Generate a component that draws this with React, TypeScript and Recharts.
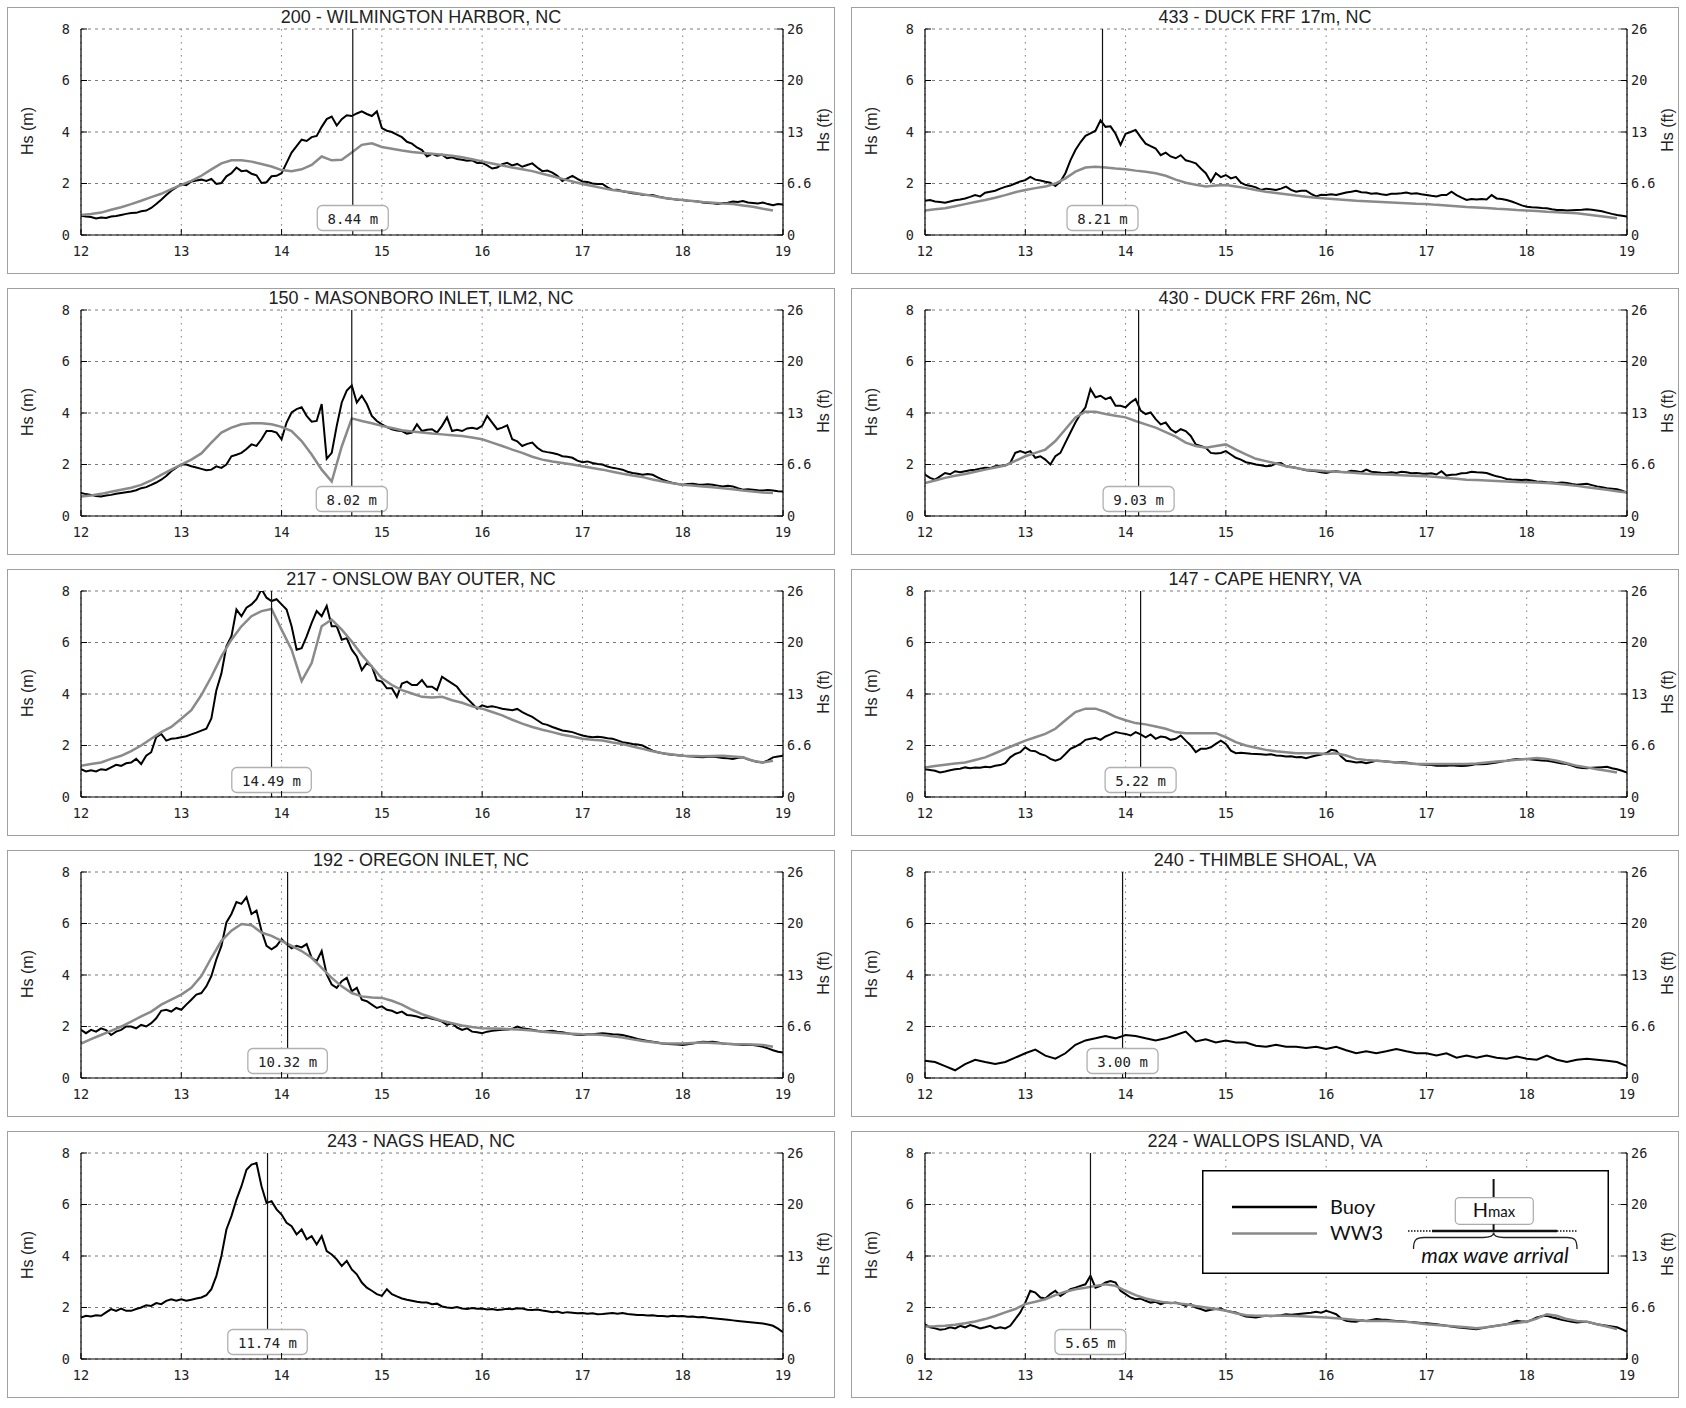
import { LineChart, Line, XAxis, YAxis, CartesianGrid, ReferenceLine, Legend } from 'recharts';

const MONO = '"DejaVu Sans Mono", monospace';
const SANS = '"Liberation Sans", Arial, sans-serif';
const LEGEND_FONT = 'Lato, "Open Sans", sans-serif';

const xTicks = [12, 13, 14, 15, 16, 17, 18, 19];
const mTicks = [0, 2, 4, 6, 8];
const ftLabels = ['0', '6.6', '13', '20', '26'];

// panel order: row by row, left then right
const stationTitles = [
  '200 - WILMINGTON HARBOR, NC',
  '433 - DUCK FRF 17m, NC',
  '150 - MASONBORO INLET, ILM2, NC',
  '430 - DUCK FRF 26m, NC',
  '217 - ONSLOW BAY OUTER, NC',
  '147 - CAPE HENRY, VA',
  '192 - OREGON INLET, NC',
  '240 - THIMBLE SHOAL, VA',
  '243 - NAGS HEAD, NC',
  '224 - WALLOPS ISLAND, VA',
];
const arrivalDays = [14.71, 13.77, 14.7, 14.13, 13.9, 14.15, 14.06, 13.97, 13.86, 13.65];
const hmaxLabels = ['8.44 m', '8.21 m', '8.02 m', '9.03 m', '14.49 m', '5.22 m', '10.32 m', '3.00 m', '11.74 m', '5.65 m'];

// Buoy Hs (m), day 12 -> 19, evenly spaced readings
const buoy200 = [
  0.75, 0.72, 0.7, 0.64, 0.68, 0.66, 0.72, 0.74, 0.78, 0.82,
  0.85, 0.86, 0.92, 0.95, 1.05, 1.2, 1.37, 1.55, 1.72, 1.85,
  1.97, 1.93, 2.08, 2.12, 2.15, 2.1, 2.18, 1.98, 2.02, 2.28,
  2.4, 2.62, 2.48, 2.5, 2.38, 2.32, 2.02, 2.05, 2.28, 2.3,
  2.4, 2.8, 3.2, 3.45, 3.7, 3.65, 3.8, 3.85, 4.2, 4.5,
  4.6, 4.25, 4.5, 4.65, 4.62, 4.72, 4.8, 4.7, 4.62, 4.8,
  4.15, 4.05, 4.0, 3.9, 3.8, 3.62, 3.55, 3.4, 3.3, 3.05,
  3.15, 3.08, 3.12, 2.98, 3.02, 2.95, 2.92, 2.88, 2.9, 2.8,
  2.8, 2.7, 2.58, 2.62, 2.75, 2.8, 2.7, 2.76, 2.65, 2.72,
  2.78, 2.62, 2.48, 2.5, 2.42, 2.3, 2.1, 2.2, 2.3, 2.18,
  2.08, 2.06, 2.0, 1.98, 1.98, 1.85, 1.75, 1.76, 1.7, 1.66,
  1.62, 1.6, 1.56, 1.55, 1.55, 1.5, 1.46, 1.42, 1.4, 1.37,
  1.36, 1.33, 1.32, 1.3, 1.26, 1.24, 1.23, 1.2, 1.24, 1.25,
  1.3, 1.28, 1.32, 1.26, 1.24, 1.22, 1.26, 1.2, 1.16, 1.2,
  1.18,
];
const buoy433 = [
  1.33, 1.36, 1.3, 1.28, 1.25, 1.3, 1.35, 1.38, 1.42, 1.48,
  1.55, 1.5, 1.64, 1.68, 1.72, 1.8, 1.87, 1.92, 2.0, 2.08,
  2.13, 2.26, 2.15, 2.12, 2.07, 2.03, 1.9, 2.07, 2.4, 2.9,
  3.3, 3.6, 3.85, 3.95, 4.05, 4.45, 4.2, 4.22, 3.93, 3.5,
  3.93, 4.0, 4.08, 3.8, 3.55, 3.45, 3.36, 3.1, 3.2, 3.05,
  2.98, 3.1, 2.9, 2.85, 2.78, 2.58, 2.4, 2.07, 2.4, 2.25,
  2.33, 2.2, 2.26, 2.03, 1.94, 1.9, 1.85, 1.75, 1.8, 1.78,
  1.75, 1.8, 1.88, 1.75, 1.68, 1.72, 1.72, 1.6, 1.5, 1.56,
  1.55, 1.58, 1.55, 1.6, 1.65, 1.68, 1.72, 1.66, 1.65, 1.6,
  1.62, 1.58, 1.55, 1.6, 1.6, 1.62, 1.65, 1.6, 1.62, 1.58,
  1.55, 1.52, 1.5, 1.55, 1.55, 1.68, 1.55, 1.45, 1.36, 1.4,
  1.38, 1.4, 1.38, 1.55, 1.42, 1.4, 1.36, 1.3, 1.23, 1.15,
  1.1, 1.08, 1.07, 1.05, 1.04, 1.0, 0.97, 0.97, 0.95, 0.96,
  0.97, 0.98, 1.0, 0.98, 0.95, 0.92, 0.87, 0.82, 0.78, 0.75,
  0.72,
];
const buoy150 = [
  0.89, 0.85, 0.82, 0.78, 0.76, 0.8, 0.82, 0.86, 0.89, 0.92,
  0.95, 1.0, 1.08, 1.12, 1.21, 1.3, 1.41, 1.55, 1.74, 1.88,
  2.0, 2.0, 1.93, 1.88, 1.83, 1.78, 1.8, 1.93, 1.87, 2.0,
  2.32, 2.38, 2.45, 2.6, 2.78, 2.72, 2.98, 3.3, 3.3, 3.24,
  2.98, 3.63, 4.02, 4.15, 4.22, 3.89, 3.66, 3.69, 4.35, 2.22,
  2.45, 3.5, 4.41, 4.87, 5.07, 4.41, 4.67, 4.35, 3.89, 3.69,
  3.56, 3.45, 3.37, 3.32, 3.3, 3.2, 3.24, 3.56, 3.3, 3.35,
  3.37, 3.24, 3.5, 3.83, 3.3, 3.35, 3.3, 3.4, 3.43, 3.38,
  3.5, 3.89, 3.63, 3.37, 3.43, 3.52, 2.98, 2.9, 2.72, 2.8,
  2.85, 2.65, 2.52, 2.48, 2.45, 2.4, 2.32, 2.3, 2.26, 2.15,
  2.09, 2.12, 2.06, 2.02, 2.0, 1.92, 1.87, 1.84, 1.8, 1.72,
  1.67, 1.64, 1.6, 1.63, 1.6, 1.5, 1.41, 1.34, 1.28, 1.24,
  1.21, 1.24, 1.25, 1.22, 1.21, 1.23, 1.21, 1.18, 1.15, 1.17,
  1.15, 1.08, 1.02, 1.04, 1.02, 1.0, 0.99, 1.01, 0.99, 0.96,
  0.95,
];
const buoy430 = [
  1.61, 1.48, 1.41, 1.54, 1.67, 1.62, 1.74, 1.7, 1.74, 1.78,
  1.8, 1.84, 1.87, 1.86, 1.93, 1.95, 1.96, 2.06, 2.45, 2.52,
  2.45, 2.52, 2.26, 2.32, 2.19, 2.0, 2.32, 2.45, 2.85, 3.24,
  3.63, 3.96, 4.22, 4.93, 4.61, 4.67, 4.54, 4.61, 4.28, 4.28,
  4.22, 4.41, 4.54, 4.09, 3.96, 4.02, 3.76, 3.56, 3.63, 3.37,
  3.24, 3.37, 3.3, 3.11, 2.78, 2.72, 2.65, 2.45, 2.43, 2.45,
  2.52, 2.39, 2.26, 2.19, 2.09, 2.05, 2.0, 1.97, 1.93, 1.95,
  2.04, 2.06, 1.93, 1.9, 1.87, 1.82, 1.78, 1.76, 1.74, 1.7,
  1.67, 1.72, 1.74, 1.71, 1.7, 1.76, 1.74, 1.7, 1.8, 1.72,
  1.7, 1.68, 1.67, 1.7, 1.67, 1.72, 1.7, 1.66, 1.67, 1.65,
  1.64, 1.66, 1.61, 1.74, 1.57, 1.6, 1.61, 1.66, 1.67, 1.72,
  1.7, 1.69, 1.67, 1.6, 1.54, 1.5, 1.44, 1.42, 1.41, 1.4,
  1.41, 1.38, 1.34, 1.33, 1.31, 1.3, 1.28, 1.3, 1.28, 1.24,
  1.21, 1.23, 1.25, 1.2, 1.15, 1.12, 1.08, 1.06, 1.04, 0.98,
  0.91,
];
const buoy217 = [
  1.08, 0.99, 1.04, 0.99, 1.08, 1.05, 1.15, 1.25, 1.21, 1.31,
  1.34, 1.48, 1.28, 1.6, 1.74, 2.32, 2.45, 2.19, 2.26, 2.28,
  2.32, 2.36, 2.43, 2.5, 2.58, 2.65, 3.05, 4.15, 4.8, 5.85,
  6.24, 7.28, 7.02, 7.35, 7.48, 7.68, 8.07, 7.74, 7.61, 7.68,
  7.48, 7.28, 6.63, 5.72, 5.78, 6.24, 6.76, 7.22, 7.02, 7.42,
  6.63, 6.63, 6.11, 6.17, 5.72, 5.46, 4.93, 5.2, 5.07, 4.54,
  4.48, 4.22, 4.22, 3.89, 4.41, 4.48, 4.35, 4.35, 4.54, 4.28,
  4.28, 4.15, 4.67, 4.54, 4.41, 4.28, 4.02, 3.83, 3.63, 3.43,
  3.56, 3.5, 3.52, 3.48, 3.43, 3.4, 3.37, 3.42, 3.3, 3.2,
  3.11, 2.98, 2.85, 2.8, 2.72, 2.65, 2.58, 2.55, 2.52, 2.45,
  2.39, 2.35, 2.32, 2.34, 2.32, 2.28, 2.26, 2.2, 2.13, 2.1,
  2.06, 2.04, 2.0, 1.9, 1.8, 1.74, 1.7, 1.66, 1.64, 1.62,
  1.6, 1.58, 1.57, 1.55, 1.54, 1.56, 1.57, 1.54, 1.51, 1.5,
  1.48, 1.52, 1.54, 1.46, 1.41, 1.36, 1.34, 1.42, 1.54, 1.57,
  1.6,
];
const buoy147 = [
  1.08, 1.05, 1.02, 0.95, 0.99, 1.04, 1.08, 1.1, 1.15, 1.12,
  1.15, 1.14, 1.17, 1.16, 1.21, 1.24, 1.31, 1.54, 1.67, 1.74,
  1.93, 1.8, 1.78, 1.67, 1.61, 1.48, 1.41, 1.48, 1.67, 1.87,
  1.96, 2.06, 2.22, 2.26, 2.3, 2.22, 2.35, 2.43, 2.52, 2.48,
  2.45, 2.39, 2.52, 2.43, 2.32, 2.43, 2.26, 2.35, 2.32, 2.22,
  2.26, 2.39, 2.19, 2.0, 1.74, 1.87, 1.87, 1.93, 2.06, 2.19,
  2.06, 1.8, 1.7, 1.72, 1.7, 1.68, 1.67, 1.66, 1.64, 1.66,
  1.61, 1.6, 1.57, 1.58, 1.54, 1.55, 1.51, 1.56, 1.61, 1.65,
  1.7, 1.83, 1.8, 1.57, 1.41, 1.38, 1.34, 1.36, 1.31, 1.36,
  1.41, 1.4, 1.38, 1.36, 1.34, 1.35, 1.34, 1.3, 1.28, 1.26,
  1.25, 1.24, 1.21, 1.22, 1.21, 1.23, 1.21, 1.2, 1.21, 1.24,
  1.28, 1.27, 1.28, 1.31, 1.34, 1.38, 1.41, 1.45, 1.48, 1.47,
  1.48, 1.46, 1.44, 1.42, 1.41, 1.38, 1.34, 1.3, 1.28, 1.22,
  1.15, 1.13, 1.12, 1.14, 1.15, 1.16, 1.17, 1.12, 1.08, 1.02,
  0.95,
];
const buoy192 = [
  1.87, 1.74, 1.87, 1.8, 1.93, 1.86, 1.67, 1.8, 1.87, 2.0,
  2.0, 1.93, 2.06, 2.0, 2.13, 2.32, 2.61, 2.65, 2.58, 2.72,
  2.65, 2.85, 3.04, 3.24, 3.3, 3.56, 3.96, 4.61, 5.13, 6.04,
  6.37, 6.83, 6.76, 7.02, 6.37, 6.5, 5.72, 5.13, 5.0, 5.13,
  5.39, 5.2, 5.04, 5.13, 5.07, 5.2, 4.67, 4.54, 4.93, 4.02,
  3.63, 3.5, 3.76, 3.89, 3.37, 3.5, 3.04, 2.98, 2.85, 2.72,
  2.78, 2.65, 2.61, 2.52, 2.58, 2.45, 2.43, 2.39, 2.32, 2.36,
  2.3, 2.26, 2.19, 2.06, 2.13, 1.96, 1.87, 1.93, 1.8, 1.78,
  1.74, 1.8, 1.83, 1.85, 1.87, 1.88, 1.91, 2.0, 1.93, 1.9,
  1.87, 1.84, 1.8, 1.82, 1.83, 1.8, 1.78, 1.74, 1.7, 1.68,
  1.67, 1.7, 1.7, 1.72, 1.74, 1.72, 1.7, 1.69, 1.67, 1.62,
  1.57, 1.52, 1.48, 1.44, 1.41, 1.38, 1.34, 1.32, 1.31, 1.3,
  1.28, 1.31, 1.34, 1.38, 1.41, 1.4, 1.41, 1.38, 1.34, 1.32,
  1.31, 1.3, 1.28, 1.29, 1.28, 1.25, 1.21, 1.15, 1.08, 1.02,
  0.99,
];
const buoy240 = [
  0.67, 0.62, 0.46, 0.3, 0.54, 0.71, 0.62, 0.54, 0.62, 0.79,
  0.96, 1.1, 0.87, 0.75, 0.96, 1.29, 1.46, 1.54, 1.63, 1.54,
  1.67, 1.63, 1.54, 1.46, 1.54, 1.67, 1.8, 1.42, 1.5, 1.38,
  1.46, 1.38, 1.38, 1.25, 1.21, 1.29, 1.21, 1.21, 1.17, 1.21,
  1.13, 1.21, 1.08, 0.96, 1.04, 0.96, 1.04, 1.13, 1.04, 0.96,
  0.96, 0.87, 0.96, 0.79, 0.87, 0.79, 0.87, 0.79, 0.75, 0.83,
  0.75, 0.71, 0.87, 0.71, 0.62, 0.71, 0.75, 0.71, 0.67, 0.62,
  0.46,
];
const buoy243 = [
  1.61, 1.68, 1.65, 1.7, 1.68, 1.81, 1.94, 1.87, 1.96, 1.87,
  1.87, 1.94, 2.0, 2.09, 2.06, 2.17, 2.13, 2.26, 2.32, 2.26,
  2.32, 2.26, 2.3, 2.35, 2.39, 2.48, 2.71, 3.23, 4.0, 5.03,
  5.55, 6.19, 6.71, 7.35, 7.55, 7.61, 6.71, 6.06, 6.13, 5.81,
  5.61, 5.29, 5.16, 4.84, 5.03, 4.65, 4.77, 4.45, 4.77, 4.19,
  4.06, 3.87, 3.61, 3.81, 3.48, 3.29, 2.97, 2.77, 2.65, 2.52,
  2.45, 2.71, 2.52, 2.43, 2.35, 2.3, 2.26, 2.22, 2.19, 2.19,
  2.13, 2.15, 2.04, 2.0, 1.98, 2.02, 1.96, 1.94, 1.98, 1.95,
  1.96, 1.92, 1.94, 1.9, 1.92, 1.95, 1.93, 1.97, 1.96, 1.91,
  1.9, 1.92, 1.88, 1.85, 1.82, 1.84, 1.79, 1.82, 1.8, 1.78,
  1.79, 1.76, 1.78, 1.74, 1.75, 1.77, 1.79, 1.76, 1.79, 1.75,
  1.73, 1.71, 1.71, 1.69, 1.7, 1.67, 1.67, 1.65, 1.68, 1.66,
  1.67, 1.64, 1.65, 1.62, 1.63, 1.6, 1.58, 1.56, 1.54, 1.52,
  1.5, 1.48, 1.46, 1.44, 1.42, 1.4, 1.38, 1.34, 1.29, 1.18,
  1.04,
];
const buoy224 = [
  1.35, 1.23, 1.19, 1.14, 1.16, 1.23, 1.19, 1.29, 1.23, 1.32,
  1.26, 1.19, 1.23, 1.29, 1.19, 1.23, 1.19, 1.29, 1.55, 1.81,
  2.19, 2.65, 2.58, 2.39, 2.35, 2.52, 2.65, 2.45, 2.58, 2.71,
  2.77, 2.84, 2.9, 3.23, 2.77, 2.84, 2.97, 3.03, 2.97, 2.65,
  2.52, 2.39, 2.32, 2.35, 2.26, 2.19, 2.22, 2.13, 2.19, 2.17,
  2.19, 2.13, 2.06, 2.13, 2.0, 1.94, 1.87, 1.91, 1.94, 1.96,
  1.87, 1.84, 1.81, 1.72, 1.65, 1.63, 1.61, 1.65, 1.68, 1.66,
  1.68, 1.7, 1.74, 1.72, 1.74, 1.76, 1.78, 1.8, 1.83, 1.8,
  1.87, 1.81, 1.74, 1.57, 1.48, 1.46, 1.45, 1.5, 1.48, 1.52,
  1.55, 1.53, 1.52, 1.5, 1.48, 1.47, 1.45, 1.44, 1.42, 1.4,
  1.39, 1.37, 1.35, 1.32, 1.29, 1.26, 1.23, 1.21, 1.19, 1.17,
  1.16, 1.19, 1.23, 1.26, 1.29, 1.32, 1.35, 1.42, 1.48, 1.46,
  1.45, 1.52, 1.61, 1.66, 1.68, 1.62, 1.57, 1.52, 1.48, 1.45,
  1.42, 1.44, 1.45, 1.4, 1.35, 1.32, 1.29, 1.26, 1.23, 1.15,
  1.06,
];

// WW3 model Hs (m), every 0.1 day from day 12
const ww3_200 = [
  0.78, 0.82, 0.87, 0.98, 1.08, 1.2, 1.33, 1.47, 1.6, 1.78,
  1.95, 2.1, 2.3, 2.55, 2.78, 2.9, 2.9, 2.85, 2.76, 2.66,
  2.52, 2.48, 2.55, 2.72, 3.05, 2.9, 2.92, 3.2, 3.5, 3.56,
  3.42, 3.35, 3.28, 3.22, 3.18, 3.16, 3.12, 3.08, 3.02, 2.94,
  2.86, 2.78, 2.7, 2.62, 2.55, 2.48, 2.38, 2.28, 2.18, 2.08,
  1.98, 1.9, 1.82, 1.75, 1.7, 1.65, 1.58, 1.52, 1.45, 1.4,
  1.36, 1.32, 1.28, 1.25, 1.22, 1.2, 1.15, 1.1, 1.02, 0.95,
];
const ww3_433 = [
  0.95, 1.0, 1.04, 1.12, 1.2, 1.28, 1.36, 1.45, 1.55, 1.66,
  1.75, 1.82, 1.88, 2.0, 2.2, 2.46, 2.62, 2.65, 2.62, 2.58,
  2.55, 2.5, 2.46, 2.4, 2.3, 2.15, 2.03, 1.95, 1.88, 1.92,
  1.94, 1.88, 1.82, 1.75, 1.68, 1.63, 1.58, 1.53, 1.49, 1.45,
  1.42, 1.39, 1.36, 1.33, 1.31, 1.29, 1.27, 1.25, 1.23, 1.21,
  1.2, 1.17, 1.15, 1.12, 1.09, 1.07, 1.05, 1.02, 1.0, 0.97,
  0.95, 0.93, 0.9, 0.88, 0.86, 0.84, 0.8, 0.75, 0.7, 0.65,
];
const ww3_150 = [
  0.76, 0.8, 0.86, 0.94, 1.02, 1.1, 1.21, 1.38, 1.6, 1.8,
  2.0, 2.19, 2.43, 2.85, 3.24, 3.43, 3.56, 3.6, 3.6, 3.56,
  3.46, 3.3, 2.91, 2.39, 1.8, 1.34, 2.7, 3.79, 3.69, 3.6,
  3.5, 3.42, 3.33, 3.28, 3.24, 3.2, 3.17, 3.14, 3.11, 3.05,
  2.98, 2.85, 2.72, 2.58, 2.45, 2.3, 2.19, 2.12, 2.06, 2.0,
  1.93, 1.86, 1.8, 1.72, 1.64, 1.57, 1.51, 1.42, 1.34, 1.27,
  1.21, 1.18, 1.15, 1.12, 1.08, 1.04, 0.99, 0.95, 0.91, 0.89,
];
const ww3_430 = [
  1.28, 1.38, 1.48, 1.56, 1.63, 1.72, 1.8, 1.88, 1.96, 2.14,
  2.32, 2.45, 2.58, 2.91, 3.37, 3.83, 4.05, 4.05, 3.96, 3.89,
  3.83, 3.69, 3.56, 3.43, 3.26, 3.08, 2.85, 2.72, 2.65, 2.72,
  2.78, 2.58, 2.39, 2.22, 2.13, 2.04, 1.93, 1.86, 1.8, 1.77,
  1.74, 1.72, 1.7, 1.67, 1.64, 1.62, 1.61, 1.59, 1.57, 1.55,
  1.54, 1.51, 1.48, 1.45, 1.41, 1.4, 1.38, 1.36, 1.34, 1.32,
  1.31, 1.3, 1.28, 1.25, 1.21, 1.17, 1.12, 1.07, 1.02, 0.96,
  0.91,
];
const ww3_217 = [
  1.21, 1.28, 1.34, 1.48, 1.6, 1.78, 2.0, 2.26, 2.52, 2.72,
  3.04, 3.37, 3.96, 4.67, 5.46, 6.11, 6.63, 7.02, 7.22, 7.3,
  6.5, 5.72, 4.5, 5.2, 6.63, 6.89, 6.5, 6.04, 5.52, 5.07,
  4.61, 4.35, 4.15, 4.02, 3.89, 3.86, 3.89, 3.76, 3.66, 3.52,
  3.43, 3.3, 3.17, 3.0, 2.85, 2.72, 2.61, 2.52, 2.42, 2.35,
  2.26, 2.22, 2.19, 2.12, 2.06, 1.96, 1.87, 1.78, 1.7, 1.65,
  1.6, 1.59, 1.58, 1.59, 1.6, 1.57, 1.54, 1.41, 1.34, 1.41,
];
const ww3_147 = [
  1.15, 1.2, 1.25, 1.3, 1.34, 1.44, 1.54, 1.7, 1.87, 2.03,
  2.19, 2.32, 2.45, 2.65, 2.98, 3.3, 3.43, 3.43, 3.3, 3.11,
  2.98, 2.87, 2.82, 2.74, 2.65, 2.52, 2.48, 2.48, 2.48, 2.48,
  2.32, 2.13, 2.0, 1.91, 1.83, 1.78, 1.74, 1.7, 1.7, 1.7,
  1.67, 1.7, 1.61, 1.48, 1.44, 1.41, 1.38, 1.34, 1.31, 1.28,
  1.28, 1.28, 1.28, 1.28, 1.28, 1.3, 1.34, 1.38, 1.41, 1.45,
  1.48, 1.51, 1.48, 1.41, 1.31, 1.21, 1.15, 1.08, 1.02, 0.95,
];
const ww3_192 = [
  1.34, 1.51, 1.67, 1.83, 2.0, 2.19, 2.39, 2.58, 2.85, 3.04,
  3.24, 3.5, 3.96, 4.67, 5.33, 5.72, 5.98, 5.93, 5.65, 5.52,
  5.33, 5.13, 4.93, 4.67, 4.28, 3.89, 3.56, 3.3, 3.17, 3.13,
  3.11, 3.0, 2.85, 2.65, 2.48, 2.35, 2.22, 2.13, 2.04, 1.98,
  1.93, 1.92, 1.91, 1.89, 1.87, 1.84, 1.8, 1.77, 1.74, 1.72,
  1.7, 1.69, 1.67, 1.62, 1.57, 1.5, 1.44, 1.39, 1.34, 1.34,
  1.34, 1.36, 1.38, 1.36, 1.34, 1.32, 1.31, 1.3, 1.28, 1.21,
];
const ww3_224 = [
  1.26, 1.27, 1.29, 1.33, 1.39, 1.46, 1.55, 1.67, 1.81, 1.94,
  2.13, 2.22, 2.32, 2.48, 2.61, 2.71, 2.77, 2.84, 2.9, 2.84,
  2.65, 2.48, 2.35, 2.26, 2.19, 2.17, 2.13, 2.06, 2.0, 1.94,
  1.87, 1.78, 1.7, 1.68, 1.68, 1.68, 1.68, 1.67, 1.65, 1.63,
  1.61, 1.58, 1.55, 1.51, 1.48, 1.48, 1.48, 1.46, 1.45, 1.4,
  1.35, 1.32, 1.29, 1.26, 1.23, 1.19, 1.23, 1.29, 1.35, 1.4,
  1.45, 1.57, 1.74, 1.68, 1.55, 1.48, 1.45, 1.35, 1.26, 1.16,
];

const buoySeries = [buoy200, buoy433, buoy150, buoy430, buoy217, buoy147, buoy192, buoy240, buoy243, buoy224];
const ww3Series: (number[] | null)[] = [ww3_200, ww3_433, ww3_150, ww3_430, ww3_217, ww3_147, ww3_192, null, null, ww3_224];

const BOX_W = 828;
const BOX_H = 267;
const X_MARGIN = 11;
const YL_MARGIN = 11;
const YR_MARGIN = 4;

function toPoints(values: number[], step: number) {
  return values.map((v, i) => ({ t: Math.round((12 + i * step) * 1000) / 1000, v }));
}

const tickText = { fontFamily: MONO, fontSize: 13.5, fill: '#222' };

const XTick = (props: any) => {
  const { x, y, payload } = props;
  const ay = y - X_MARGIN;
  return (
    <g>
      <line x1={x} x2={x} y1={ay} y2={ay - 6} stroke="#000" />
      <text x={x} y={y} dy="0.71em" textAnchor="middle" {...tickText}>{payload.value}</text>
    </g>
  );
};

const LeftTick = (props: any) => {
  const { x, y, payload } = props;
  const ax = x + YL_MARGIN;
  return (
    <g>
      <line x1={ax} x2={ax + 6} y1={y} y2={y} stroke="#000" />
      <text x={x} y={y} dy="0.355em" textAnchor="end" {...tickText}>{payload.value}</text>
    </g>
  );
};

const RightTick = (props: any) => {
  const { x, y, payload } = props;
  const ax = x - YR_MARGIN;
  const label = ftLabels[mTicks.indexOf(Number(payload.value))];
  return (
    <g>
      <line x1={ax} x2={ax - 6} y1={y} y2={y} stroke="#000" />
      <text x={x} y={y} dy="0.355em" textAnchor="start" {...tickText}>{label}</text>
    </g>
  );
};

const axisTitle = (text: string, cx: number, cy: number) => () => (
  <text
    x={cx}
    y={cy}
    transform={`rotate(-90 ${cx} ${cy})`}
    textAnchor="middle"
    dominantBaseline="central"
    fontFamily={SANS}
    fontSize={16}
    fill="#222"
  >
    {text}
  </text>
);

const hmaxBox = (text: string) => (props: any) => {
  const vb = props.viewBox || {};
  const x = vb.x;
  const bottom = vb.y + vb.height;
  const w = text.length * 8.5 + 20;
  return (
    <g>
      <rect x={x - w / 2} y={bottom - 29.5} width={w} height={25} rx={5} fill="#fff" stroke="#b0b0b0" strokeWidth={1.3} />
      <text x={x} y={bottom - 16.5} textAnchor="middle" dominantBaseline="central" fontFamily={MONO} fontSize={14} fill="#222">
        {text}
      </text>
    </g>
  );
};

function LegendBox({ payload }: any) {
  const items = (payload ?? []).filter((it: any) => it.value === 'Buoy' || it.value === 'WW3');
  return (
    <svg width={407} height={104} style={{ display: 'block' }}>
      <rect x={0.75} y={0.75} width={405.5} height={102.5} fill="#fff" stroke="#000" strokeWidth={1.5} />
      {items.map((it: any, i: number) => (
        <g key={String(it.value)}>
          <line x1={30} x2={115} y1={37 + i * 26.6} y2={37 + i * 26.6} stroke={it.color} strokeWidth={2.5} />
          <text x={128} y={44 + i * 26.2} fontFamily={LEGEND_FONT} fontSize={20} fill="#111">{it.value}</text>
        </g>
      ))}
      <line x1={291.6} x2={291.6} y1={9} y2={28} stroke="#111" strokeWidth={2} />
      <rect x={253.3} y={27.6} width={78} height={26.7} rx={4} fill="#fff" stroke="#aaa" strokeWidth={1.2} />
      <text x={292} y={47} textAnchor="middle" fontFamily={LEGEND_FONT} fill="#111">
        <tspan fontSize={20}>H</tspan>
        <tspan fontSize={15}>max</tspan>
      </text>
      <line x1={291.6} x2={291.6} y1={54.3} y2={61} stroke="#111" strokeWidth={2} />
      <line x1={230} x2={355} y1={61} y2={61} stroke="#111" strokeWidth={2.5} />
      <line x1={206} x2={230} y1={61} y2={61} stroke="#111" strokeWidth={1.5} strokeDasharray="1.5 1.5" />
      <line x1={355} x2={376} y1={61} y2={61} stroke="#111" strokeWidth={1.5} strokeDasharray="1.5 1.5" />
      <path
        d="M 211.5 79 C 211.5 70 214 67.5 222 67.5 L 281 67.5 C 288 67.5 291.6 66 291.6 62.5 C 291.6 66 295 67.5 302 67.5 L 365 67.5 C 373 67.5 375 70 375 79"
        fill="none"
        stroke="#222"
        strokeWidth={1.3}
      />
      <text x={293} y={93} textAnchor="middle" fontFamily={LEGEND_FONT} fontStyle="italic" fontSize={21} fill="#111">
        max wave arrival
      </text>
    </svg>
  );
}

function WavePanel({ index }: { index: number }) {
  const col = index % 2;
  const row = Math.floor(index / 2);
  const left = col === 0 ? 7 : 851;
  const top = 7 + row * 281;
  const buoyValues = buoySeries[index];
  const buoyPts = toPoints(buoyValues, 7 / (buoyValues.length - 1));
  const ww3Values = ww3Series[index];
  const ww3Pts = ww3Values ? toPoints(ww3Values, 0.1) : null;
  const showLegend = index === 9;

  return (
    <div style={{ position: 'absolute', left, top, width: BOX_W, height: BOX_H }}>
      <LineChart width={BOX_W} height={BOX_H} margin={{ top: 22, right: 4, bottom: 0, left: 4 }}>
        <CartesianGrid yAxisId="m" vertical={false} stroke="#7a7a7a" strokeDasharray="3 4" />
        <CartesianGrid yAxisId="m" horizontal={false} stroke="#7a7a7a" strokeDasharray="1.5 5" />
        <XAxis
          dataKey="t"
          type="number"
          domain={[12, 19]}
          ticks={xTicks}
          interval={0}
          allowDataOverflow
          height={39}
          tickSize={0}
          tickMargin={X_MARGIN}
          tickLine={false}
          axisLine={{ stroke: '#000', strokeWidth: 1.2 }}
          tick={XTick}
        />
        <YAxis
          yAxisId="m"
          type="number"
          domain={[0, 8]}
          ticks={mTicks}
          interval={0}
          allowDataOverflow
          width={70}
          tickSize={0}
          tickMargin={YL_MARGIN}
          tickLine={false}
          axisLine={{ stroke: '#000', strokeWidth: 1.2 }}
          tick={LeftTick}
          label={axisTitle('Hs (m)', 20, 124)}
        />
        <YAxis
          yAxisId="ft"
          orientation="right"
          type="number"
          domain={[0, 8]}
          ticks={mTicks}
          interval={0}
          allowDataOverflow
          width={48}
          tickSize={0}
          tickMargin={YR_MARGIN}
          tickLine={false}
          axisLine={{ stroke: '#000', strokeWidth: 1.2 }}
          tick={RightTick}
          label={axisTitle('Hs (ft)', 816, 123)}
        />
        {/* invisible series so the feet axis gets its ticks */}
        <Line
          yAxisId="ft"
          data={buoyPts}
          dataKey="v"
          name="ft"
          stroke="none"
          legendType="none"
          dot={false}
          activeDot={false}
          isAnimationActive={false}
        />
        <Line
          yAxisId="m"
          data={buoyPts}
          dataKey="v"
          name="Buoy"
          type="linear"
          stroke="#000"
          strokeWidth={2}
          dot={false}
          isAnimationActive={false}
        />
        {ww3Pts && (
          <Line
            yAxisId="m"
            data={ww3Pts}
            dataKey="v"
            name="WW3"
            type="linear"
            stroke="#8a8a8a"
            strokeWidth={2.5}
            dot={false}
            isAnimationActive={false}
          />
        )}
        <ReferenceLine
          yAxisId="m"
          x={arrivalDays[index]}
          stroke="#111"
          strokeWidth={1.2}
          label={hmaxBox(hmaxLabels[index])}
        />
        {showLegend && (
          <Legend
            layout="vertical"
            align="center"
            verticalAlign="middle"
            content={(p: any) => <LegendBox payload={p.payload} />}
            wrapperStyle={{ left: 351, top: 39, width: 407, height: 104 }}
          />
        )}
      </LineChart>
      <div
        style={{
          position: 'absolute',
          left: 0,
          top: 0,
          width: BOX_W,
          textAlign: 'center',
          fontFamily: SANS,
          fontSize: 18,
          lineHeight: '20px',
          color: '#222',
          pointerEvents: 'none',
        }}
      >
        {stationTitles[index]}
      </div>
      <div
        style={{
          position: 'absolute',
          left: 0,
          top: 0,
          width: BOX_W,
          height: BOX_H,
          boxSizing: 'border-box',
          border: '1.5px solid #a0a0a0',
          pointerEvents: 'none',
        }}
      />
    </div>
  );
}

export default function App() {
  return (
    <div style={{ position: 'absolute', left: 0, top: 0, width: 1686, height: 1408, background: '#fff' }}>
      {stationTitles.map((_, i) => (
        <WavePanel key={i} index={i} />
      ))}
    </div>
  );
}
